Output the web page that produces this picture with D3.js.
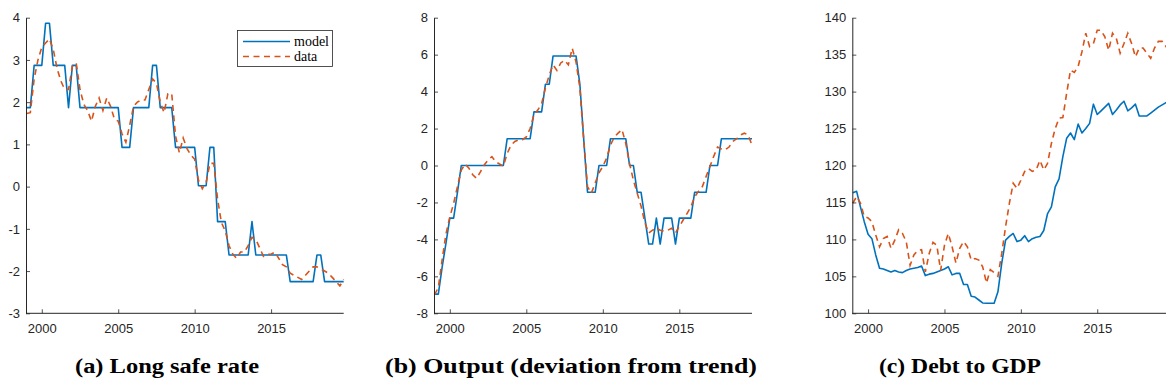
<!DOCTYPE html>
<html>
<head>
<meta charset="utf-8">
<script src="https://cdn.jsdelivr.net/npm/d3@7"></script>
<style>
  html, body { margin: 0; padding: 0; background: #fff; }
  svg { display: block; }
  .tick text { font-family: "Liberation Sans", Arial, sans-serif; font-size: 13px; fill: #262626; }
  .caption { font-family: "Liberation Serif", "DejaVu Serif", serif; font-weight: bold; font-size: 20px; fill: #000; }
  .legend text { font-family: "Liberation Serif", "DejaVu Serif", serif; font-size: 14px; fill: #000; }
</style>
</head>
<body>
<svg id="fig" width="1166" height="390"></svg>
<script>
// Quarterly sample 1999Q1 - 2019Q4
const startYear = 1999;
const nQuarters = 84;
const quarters = d3.range(nQuarters).map(i => startYear + i / 4);
const yearTicks = [2000, 2005, 2010, 2015];

// (a) Long safe rate
const rateModel = [
  1.87, 1.87, 2.87, 2.87, 2.87, 3.87, 3.87, 2.87, 2.87, 2.87,
  2.87, 1.87, 2.87, 2.87, 1.87, 1.87, 1.87, 1.87, 1.87, 1.87,
  1.87, 1.87, 1.87, 1.87, 1.87, 0.93, 0.93, 0.93, 1.87, 1.87,
  1.87, 1.87, 1.87, 2.87, 2.87, 1.87, 1.87, 1.87, 1.87, 0.93,
  0.93, 0.93, 0.93, 0.93, 0.93, 0.02, 0.02, 0.02, 0.93, 0.93,
  -0.83, -0.83, -0.83, -1.62, -1.62, -1.62, -1.62, -1.62, -1.62, -0.83,
  -1.62, -1.62, -1.62, -1.62, -1.62, -1.62, -1.62, -1.62, -1.62, -2.25,
  -2.25, -2.25, -2.25, -2.25, -2.25, -2.25, -1.62, -1.62, -2.25, -2.25,
  -2.25, -2.25, -2.25, -2.25
];
const rateData = [
  1.73, 1.75, 2.55, 3.0, 3.3, 3.4, 3.5, 3.25, 2.8, 2.5,
  2.3, 2.3, 2.85, 2.93, 2.3, 1.95, 1.8, 1.55, 1.9, 2.1,
  1.8, 2.1, 1.9, 1.6, 1.55, 1.25, 1.05, 1.45, 1.9, 2.0,
  2.05, 2.05, 2.3, 2.55, 2.45, 2.0, 1.75, 2.2, 2.2, 1.2,
  0.8, 1.15, 0.9, 0.75, 0.65, 0.15, -0.05, 0.1, 0.55, 0.55,
  -0.3, -0.85, -1.05, -1.4, -1.6, -1.7, -1.55, -1.55, -1.4, -1.2,
  -1.25, -1.45, -1.65, -1.6, -1.6, -1.55, -1.7, -1.85, -1.9, -2.05,
  -2.1, -2.15, -2.2, -2.1, -2.0, -1.9, -1.9, -1.95, -2.0, -2.05,
  -2.15, -2.25, -2.35, -2.2
];
const rateTicks = [-3, -2, -1, 0, 1, 2, 3, 4];

// (b) Output (deviation from trend)
const outputModel = [
  -6.96, -6.96, -5.5, -4.2, -2.85, -2.85, -1.45, 0, 0, 0,
  0, 0, 0, 0, 0, 0, 0, 0, 0, 1.45,
  1.45, 1.45, 1.45, 1.45, 1.45, 1.45, 2.9, 2.9, 2.9, 4.4,
  4.4, 5.93, 5.93, 5.93, 5.93, 5.93, 5.93, 5.93, 4.4, 1.45,
  -1.45, -1.45, -1.45, 0, 0, 0, 1.45, 1.45, 1.45, 1.45,
  1.45, 0, 0, -1.45, -1.45, -2.85, -4.25, -4.25, -2.85, -4.25,
  -2.85, -2.85, -2.85, -4.25, -2.85, -2.85, -2.85, -2.85, -1.45, -1.45,
  -1.45, -1.45, 0, 0, 0, 1.45, 1.45, 1.45, 1.45, 1.45,
  1.45, 1.45, 1.45, 1.45
];
const outputData = [
  -7.0, -6.6, -5.1, -3.7, -2.8, -2.05, -1.15, -0.25, 0.08, -0.15,
  -0.5, -0.7, -0.35, 0.03, 0.3, 0.48, 0.2, 0.08, -0.03, 0.65,
  1.1, 1.3, 1.38, 1.4, 1.55, 2.0, 2.75, 3.0, 3.35, 4.2,
  4.9, 5.45, 5.15, 5.55, 5.7, 5.45, 6.35, 5.6, 4.2, 1.4,
  -1.15, -1.5, -0.95, -0.4, -0.05, 0.4, 1.1, 1.55, 1.75, 1.95,
  1.2, 0.1, -0.8, -1.5, -2.2, -3.1, -3.65, -3.5, -3.4, -3.5,
  -3.55, -3.5, -3.4, -3.65, -3.3, -2.95, -2.6, -2.25, -1.7, -1.4,
  -1.15, -0.6, -0.05, 0.5, 1.0, 0.9, 0.85, 1.0, 1.3, 1.45,
  1.65, 1.75, 1.65, 1.1
];
const outputTicks = [-8, -6, -4, -2, 0, 2, 4, 6, 8];

// (c) Debt to GDP
const debtModel = [
  116.3, 116.5, 114.4, 112.4, 110.7, 110.1, 107.9, 106.1, 106.0, 105.8,
  105.6, 105.8, 105.6, 105.5, 105.8, 106.0, 106.1, 106.2, 106.4, 105.1,
  105.3, 105.4, 105.6, 105.8, 106.0, 106.3, 105.2, 105.4, 105.4, 103.9,
  103.9, 102.3, 102.2, 101.8, 101.4, 101.35, 101.35, 101.35, 102.9, 106.8,
  109.9, 110.4, 110.8, 109.7, 109.9, 110.5, 109.7, 110.1, 110.3, 110.4,
  111.2, 113.5, 114.4, 117.1, 118.2, 121.2, 123.7, 124.4, 123.5, 125.6,
  124.4, 125.0, 125.7, 128.3, 126.9, 127.4, 127.9, 128.4, 126.9, 127.5,
  128.2, 128.7, 127.4, 127.8, 128.3, 126.7, 126.7, 126.7, 127.1, 127.5,
  127.9, 128.2, 128.5, 128.8
];
const debtData = [
  114.9, 115.8, 114.9, 113.1, 112.9, 112.4, 110.6, 109.0, 110.1, 110.4,
  108.8, 109.9, 111.3, 110.8, 109.7, 106.5, 107.9, 108.5, 108.6, 105.6,
  108.1, 109.6, 109.2, 105.8, 109.2, 110.8, 109.0, 106.8, 108.8, 109.7,
  109.0, 107.2, 107.4, 107.2, 106.3, 104.1, 105.9, 105.5, 105.0, 108.1,
  111.7, 114.9, 117.6, 116.9, 118.0, 119.2, 119.6, 119.2, 119.4, 120.7,
  119.4, 120.3, 123.0, 125.0, 126.4, 126.5, 129.8, 132.9, 132.6, 133.4,
  135.4, 137.9, 136.1, 136.5, 138.3, 138.3, 137.4, 135.6, 137.9, 137.2,
  135.2, 136.5, 137.9, 136.5, 134.7, 135.9, 135.9, 135.2, 134.5, 135.9,
  136.8, 136.8, 136.1, 136.5
];
const debtTicks = [100, 105, 110, 115, 120, 125, 130, 135, 140];

const seriesNames = ["model", "data"];
const captions = ["(a) Long safe rate", "(b) Output (deviation from trend)", "(c) Debt to GDP"];

// ---------------------------------------------------------------
const svg = d3.select("#fig");
const axisColor = "#262626";
const modelColor = "#0072BD";
const dataColor = "#D95319";
const plotTop = 17.7, plotBottom = 313.3;
const plainNumber = d => String(d);   // ASCII hyphen for negatives

const panels = [
  { model: rateModel,   data: rateData,   ticks: rateTicks,   left: 26.5,  right: 343.7,  legend: true,
    caption: captions[0], capX: 167, capW: 184 },
  { model: outputModel, data: outputData, ticks: outputTicks, left: 434.5, right: 752.0,  legend: false,
    caption: captions[1], capX: 571, capW: 372 },
  { model: debtModel,   data: debtData,   ticks: debtTicks,   left: 852.8, right: 1169.8, legend: false,
    caption: captions[2], capX: 960, capW: 162 }
];

panels.forEach(p => {
  const x = d3.scaleLinear()
    .domain([quarters[0], quarters[quarters.length - 1]])
    .range([p.left, p.right]);
  const y = d3.scaleLinear()
    .domain([p.ticks[0], p.ticks[p.ticks.length - 1]])
    .range([plotBottom, plotTop]);

  const g = svg.append("g");

  const line = d3.line()
    .x((d, i) => x(quarters[i]))
    .y(d => y(d));

  // series
  g.append("path")
    .datum(p.model)
    .attr("d", line)
    .attr("fill", "none")
    .attr("stroke", modelColor)
    .attr("stroke-width", 1.6)
    .attr("stroke-linejoin", "round");

  g.append("path")
    .datum(p.data)
    .attr("d", line)
    .attr("fill", "none")
    .attr("stroke", dataColor)
    .attr("stroke-width", 1.6)
    .attr("stroke-dasharray", "6,4.5");

  // axes with inward ticks
  const yAxis = d3.axisLeft(y)
    .tickValues(p.ticks)
    .tickFormat(plainNumber)
    .tickSizeInner(-4)
    .tickSizeOuter(0)
    .tickPadding(6);
  const xAxis = d3.axisBottom(x)
    .tickValues(yearTicks)
    .tickFormat(plainNumber)
    .tickSizeInner(-4)
    .tickSizeOuter(0)
    .tickPadding(10);

  const ya = g.append("g")
    .attr("transform", `translate(${p.left - 0.5},0)`)
    .call(yAxis);
  const xa = g.append("g")
    .attr("transform", `translate(0,${plotBottom})`)
    .call(xAxis);
  [ya, xa].forEach(a => {
    a.selectAll(".domain").attr("stroke", axisColor).attr("stroke-width", 1);
    a.selectAll(".tick line").attr("stroke", axisColor).attr("stroke-width", 0.8);
  });
  xa.select(".domain").attr("d", `M${p.left - 0.5},0H${p.right}`);

  // legend
  if (p.legend) {
    const lg = g.append("g").attr("class", "legend");
    lg.append("rect")
      .attr("x", 237.5).attr("y", 30.5)
      .attr("width", 95).attr("height", 36)
      .attr("fill", "#fff")
      .attr("stroke", axisColor)
      .attr("stroke-width", 0.8);
    const rows = [
      { name: seriesNames[0], color: modelColor, dash: null, yy: 41.5 },
      { name: seriesNames[1], color: dataColor, dash: "6,4.5", yy: 56.5 }
    ];
    rows.forEach(r => {
      lg.append("line")
        .attr("x1", 243).attr("x2", 290)
        .attr("y1", r.yy).attr("y2", r.yy)
        .attr("stroke", r.color)
        .attr("stroke-width", 1.6)
        .attr("stroke-dasharray", r.dash);
      lg.append("text")
        .attr("x", 294).attr("y", r.yy + 4.5)
        .text(r.name);
    });
  }

  // caption
  svg.append("text")
    .attr("class", "caption")
    .attr("x", p.capX)
    .attr("y", 373)
    .attr("text-anchor", "middle")
    .attr("textLength", p.capW)
    .attr("lengthAdjust", "spacingAndGlyphs")
    .text(p.caption);
});
</script>
</body>
</html>
